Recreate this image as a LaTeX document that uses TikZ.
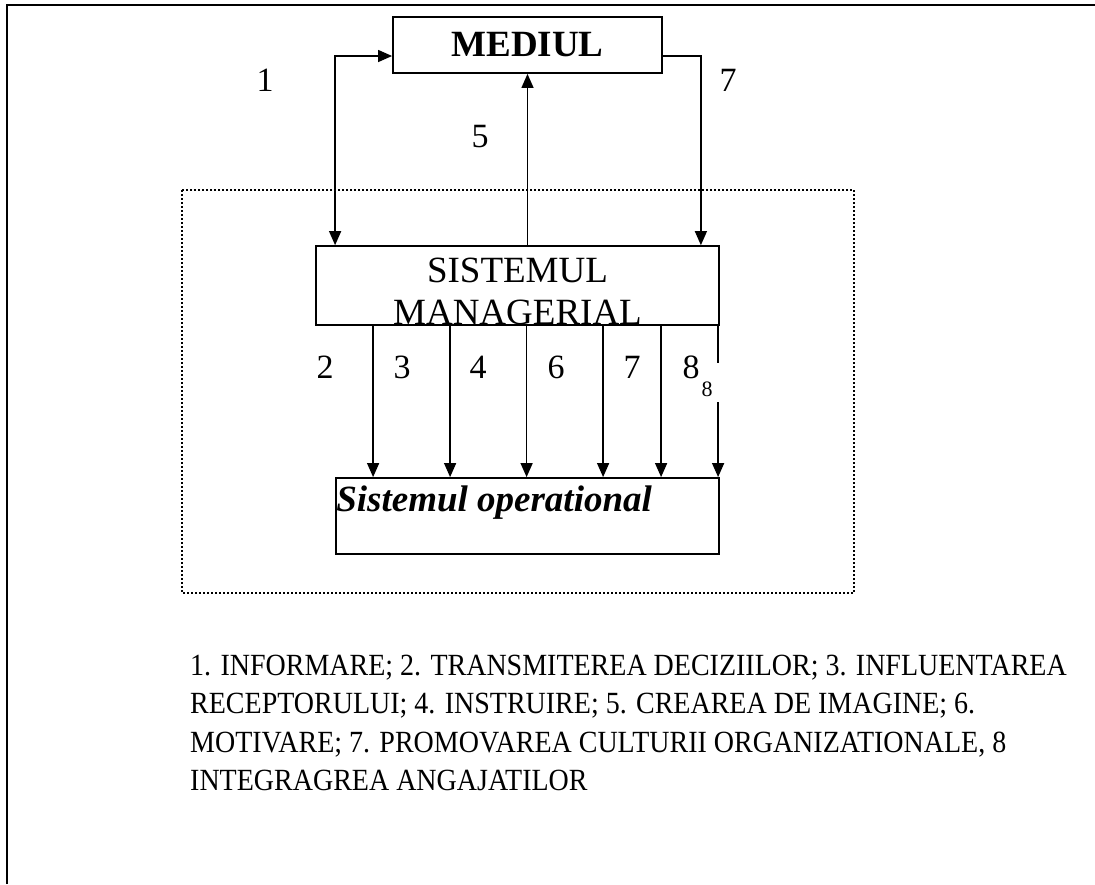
\documentclass[tikz,border=0pt]{standalone}
\usepackage{fontspec}
\setmainfont{Liberation Serif}
\usetikzlibrary{arrows.meta,calc}
\begin{document}
\begin{tikzpicture}[x=1pt,y=-1pt,
  box/.style={draw, line width=1.8pt, inner sep=0pt},
  arr/.style={line width=1.3pt, -{Triangle[length=14pt,width=12pt]}},
  lbl/.style={font=\fontsize{34}{38}\selectfont, inner sep=0pt},
  big/.style={font=\fontsize{37}{42}\selectfont},
  legline/.style={font=\fontsize{28}{30}\selectfont, inner sep=0pt, anchor=base west}]
\useasboundingbox (0,0) rectangle (1095,884);
% page frame (top and left edges)
\draw[line width=2.5pt] (7,884) -- (7,5) -- (1095,5);
% dotted boundary
\draw[line width=1.5pt, dash pattern=on 2pt off 2pt] (182,190) rectangle (854,593);
% boxes
\node[box, font=\bfseries\fontsize{37}{42}\selectfont, minimum width=269pt, minimum height=56pt] (M) at (527.5,45) {MEDIUL};
\node[box, big, minimum width=403pt, minimum height=77pt, align=center] (S) at (517.5,285.5) {\rule{0pt}{36.5pt}SISTEMUL\\MANAGERIAL};
\node[box, minimum width=383pt, minimum height=76pt] (O) at (527.5,516) {};
\node[font=\bfseries\itshape\fontsize{37}{42}\selectfont, inner sep=0pt, anchor=base west] (Ot) at ([xshift=1pt,yshift=-34pt]O.north west) {Sistemul operational};
% connectors to/from environment
\draw[line width=1.3pt, {Triangle[length=14pt,width=12pt]}-{Triangle[length=14pt,width=12pt]}] ([xshift=20pt]S.north west) |- ([yshift=-11pt]M.west);
\draw[arr] ([yshift=-11pt]M.east) -| ([xshift=-19pt]S.north east);
\draw[arr] (S.north -| M.south) -- (M.south);
% downward arrows
\foreach \dx [count=\i] in {58,135,211.5,288,346,403} {
  \path ($(S.south west)+(\dx,0)$) coordinate (t\i);
  \draw[arr] (t\i) -- (t\i |- O.north);
}
% gap in last line behind label 8
\fill[white] (683,363) rectangle (721,402);
% labels
\node[lbl] (l1) at (265,80) {1};
\node[lbl] (l7a) at (728,80) {7};
\node[lbl] (l5) at (480,137) {5};
\node[lbl] (l2) at (325,367) {2};
\node[lbl] (l3) at (402,367) {3};
\node[lbl] (l4) at (478,367) {4};
\node[lbl] (l6) at (556,367) {6};
\node[lbl] (l7) at (632,367) {7};
\node[lbl] (l8) at (691,367) {8};
\node[font=\fontsize{22}{24}\selectfont, inner sep=0pt] (l8s) at (707,389) {8};
% legend
\node[legline] (leg1) at (190,675) {\scalebox{1}[1.1]{1. INFORMARE; 2. TRANSMITEREA DECIZIILOR; 3. INFLUENTAREA}};
\node[legline] (leg2) at (190,713) {\scalebox{1}[1.1]{RECEPTORULUI; 4. INSTRUIRE; 5. CREAREA DE IMAGINE; 6.}};
\node[legline] (leg3) at (190,752) {\scalebox{1}[1.1]{MOTIVARE; 7. PROMOVAREA CULTURII ORGANIZATIONALE, 8}};
\node[legline] (leg4) at (190,790) {\scalebox{1}[1.1]{INTEGRAGREA ANGAJATILOR}};
\end{tikzpicture}
\end{document}
